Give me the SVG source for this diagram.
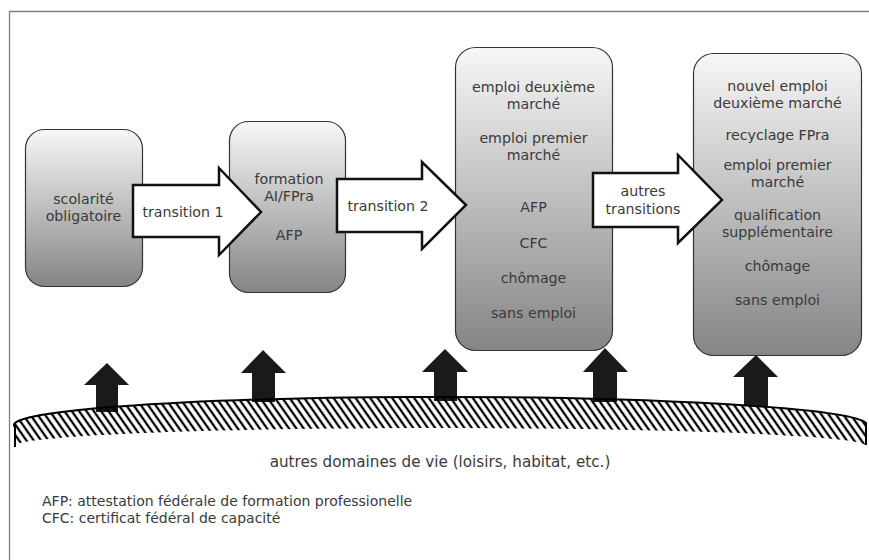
<svg xmlns="http://www.w3.org/2000/svg" width="869" height="560" viewBox="0 0 869 560">
<defs>
<linearGradient id="g" x1="0" y1="0" x2="0" y2="1">
<stop offset="0" stop-color="#f7f7f7"/>
<stop offset="1" stop-color="#858585"/>
</linearGradient>
<pattern id="hatch" patternUnits="userSpaceOnUse" width="6" height="6" patternTransform="rotate(-35)">
<line x1="3" y1="-1" x2="3" y2="7" stroke="#000" stroke-width="2.3"/>
</pattern>
</defs>
<style>
.box{fill:url(#g);stroke:#333;stroke-width:1.2}
.t{font-family:"DejaVu Sans","Open Sans",sans-serif;font-size:14.2px;fill:#3a3a3a;text-anchor:middle}
.arr{fill:#fff;stroke:#111;stroke-width:2.5;stroke-linejoin:miter}
.up{fill:#1a1a1a}
.note{font-family:"DejaVu Sans","Open Sans",sans-serif;font-size:14px;fill:#3a3a3a}
</style>
<rect width="869" height="560" fill="#fff"/>
<path d="M9.5,560 V11.5 H869" fill="none" stroke="#808080" stroke-width="1.3"/>

<g id="n1">
<rect class="box" x="25.5" y="129.5" width="117" height="157" rx="19"/>
<text class="t" x="83.5" y="204">scolarité<tspan x="83.5" dy="17">obligatoire</tspan></text>
</g>
<g id="n2">
<rect class="box" x="229.5" y="121.5" width="116" height="171" rx="19"/>
<text class="t" x="289" y="184">formation<tspan x="289" dy="17">AI/FPra</tspan></text>
<text class="t" x="289" y="240">AFP</text>
</g>
<g id="n3">
<rect class="box" x="455.5" y="47.5" width="157" height="303" rx="20"/>
<text class="t" x="533.5" y="92">emploi deuxième<tspan x="533.5" dy="17">marché</tspan></text>
<text class="t" x="533.5" y="143">emploi premier<tspan x="533.5" dy="17">marché</tspan></text>
<text class="t" x="533.5" y="212">AFP</text>
<text class="t" x="533.5" y="248">CFC</text>
<text class="t" x="533.5" y="283">chômage</text>
<text class="t" x="533.5" y="318">sans emploi</text>
</g>
<g id="n4">
<rect class="box" x="693.5" y="53.5" width="168" height="302" rx="20"/>
<text class="t" x="777.5" y="91">nouvel emploi<tspan x="777.5" dy="17">deuxième marché</tspan></text>
<text class="t" x="777.5" y="140">recyclage FPra</text>
<text class="t" x="777.5" y="170">emploi premier<tspan x="777.5" dy="17">marché</tspan></text>
<text class="t" x="777.5" y="220">qualification<tspan x="777.5" dy="17">supplémentaire</tspan></text>
<text class="t" x="777.5" y="271">chômage</text>
<text class="t" x="777.5" y="305">sans emploi</text>
</g>

<g id="connectors">
<g id="t1">
<polygon class="arr" points="133,185 219,185 219,168 261,212 219,255 219,237 133,237"/>
<text class="t" x="183" y="217">transition 1</text>
</g>
<g id="t2">
<polygon class="arr" points="337,179 422,179 422,162 466,205 422,249 422,232 337,232"/>
<text class="t" x="388" y="211">transition 2</text>
</g>
<g id="t3">
<polygon class="arr" points="593,173 678,173 678,155 722,200 678,243 678,227 593,227"/>
<text class="t" x="643" y="196">autres<tspan x="643" dy="18">transitions</tspan></text>
</g>
<g id="ups">
<polygon class="up" points="107,363 129,385 118,385 118,412 96,412 96,385 84,385"/>
<polygon class="up" points="263,350 286,373 275,373 275,402 252,402 252,373 241,373"/>
<polygon class="up" points="445,349 468,372 457,372 457,401 434,401 434,372 422,372"/>
<polygon class="up" points="605,348 628,372 617,372 617,402 593,402 593,372 583,372"/>
<polygon class="up" points="756,355 778,377 768,377 768,406 744,406 744,377 733,377"/>
</g>
</g>

<g id="base">
<path d="M15,427 A425,28 0 0 1 866,423 V445 A425,18 0 0 0 15,447 Z" fill="url(#hatch)"/>
<path d="M15,447 V427 A425,28 0 0 1 866,423 V445" fill="none" stroke="#000" stroke-width="2"/>
<text class="t" x="440" y="467" style="font-size:15.2px">autres domaines de vie (loisirs, habitat, etc.)</text>
</g>

<g id="notes">
<text class="note" x="42" y="506">AFP: attestation fédérale de formation professionelle<tspan x="42" dy="17">CFC: certificat fédéral de capacité</tspan></text>
</g>
</svg>
